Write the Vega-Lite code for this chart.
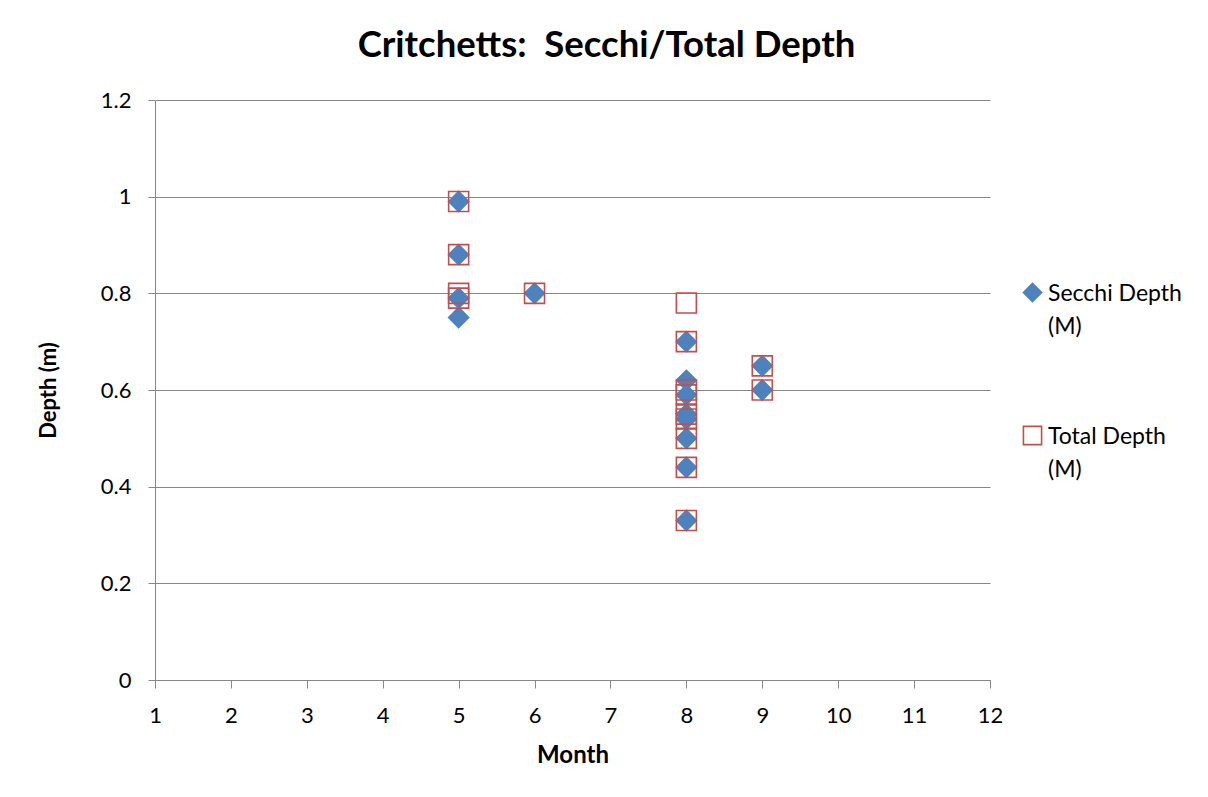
{
  "$schema": "https://vega.github.io/schema/vega-lite/v6.json",
  "autosize": "none",
  "padding": {"left": 155, "top": 100, "right": 218, "bottom": 117},
  "width": 835,
  "height": 580,
  "background": "white",
  "title": {
    "text": "Critchetts:\u00a0 Secchi/Total Depth",
    "font": "Lato",
    "fontSize": 36.5,
    "fontWeight": "bold",
    "color": "#000000",
    "anchor": "middle",
    "dx": 34,
    "offset": 25
  },
  "config": {
    "view": {"stroke": null},
    "font": "Lato",
    "style": {"guide-label": {"lineHeight": 33, "dy": 8}},
    "axis": {
      "labelFont": "Lato",
      "labelFontSize": 22,
      "labelColor": "#000000",
      "titleFont": "Lato",
      "titleFontSize": 22,
      "titleFontWeight": "bold",
      "titleColor": "#000000",
      "domainColor": "#868686",
      "tickColor": "#868686",
      "gridColor": "#868686",
      "labelFlush": false
    },
    "legend": {
      "labelFont": "Lato",
      "labelFontSize": 23,
      "labelColor": "#000000"
    }
  },
  "data": {
    "values": [
      {"month": 5, "series": "Secchi Depth (M)", "depth": 0.99},
      {"month": 5, "series": "Secchi Depth (M)", "depth": 0.88},
      {"month": 5, "series": "Secchi Depth (M)", "depth": 0.79},
      {"month": 5, "series": "Secchi Depth (M)", "depth": 0.75},
      {"month": 6, "series": "Secchi Depth (M)", "depth": 0.80},
      {"month": 8, "series": "Secchi Depth (M)", "depth": 0.70},
      {"month": 8, "series": "Secchi Depth (M)", "depth": 0.62},
      {"month": 8, "series": "Secchi Depth (M)", "depth": 0.59},
      {"month": 8, "series": "Secchi Depth (M)", "depth": 0.55},
      {"month": 8, "series": "Secchi Depth (M)", "depth": 0.54},
      {"month": 8, "series": "Secchi Depth (M)", "depth": 0.50},
      {"month": 8, "series": "Secchi Depth (M)", "depth": 0.44},
      {"month": 8, "series": "Secchi Depth (M)", "depth": 0.33},
      {"month": 9, "series": "Secchi Depth (M)", "depth": 0.65},
      {"month": 9, "series": "Secchi Depth (M)", "depth": 0.60},
      {"month": 5, "series": "Total Depth (M)", "depth": 0.99},
      {"month": 5, "series": "Total Depth (M)", "depth": 0.88},
      {"month": 5, "series": "Total Depth (M)", "depth": 0.80},
      {"month": 5, "series": "Total Depth (M)", "depth": 0.79},
      {"month": 6, "series": "Total Depth (M)", "depth": 0.80},
      {"month": 8, "series": "Total Depth (M)", "depth": 0.78},
      {"month": 8, "series": "Total Depth (M)", "depth": 0.70},
      {"month": 8, "series": "Total Depth (M)", "depth": 0.60},
      {"month": 8, "series": "Total Depth (M)", "depth": 0.59},
      {"month": 8, "series": "Total Depth (M)", "depth": 0.55},
      {"month": 8, "series": "Total Depth (M)", "depth": 0.54},
      {"month": 8, "series": "Total Depth (M)", "depth": 0.50},
      {"month": 8, "series": "Total Depth (M)", "depth": 0.44},
      {"month": 8, "series": "Total Depth (M)", "depth": 0.33},
      {"month": 9, "series": "Total Depth (M)", "depth": 0.65},
      {"month": 9, "series": "Total Depth (M)", "depth": 0.60}
    ]
  },
  "mark": {"type": "point", "filled": false, "size": 400, "strokeWidth": 1.6, "opacity": 1},
  "encoding": {
    "x": {
      "field": "month",
      "type": "quantitative",
      "title": "Month",
      "scale": {"domain": [1, 12], "nice": false, "zero": false},
      "axis": {"values": [1,2,3,4,5,6,7,8,9,10,11,12], "grid": false, "tickSize": 8, "labelPadding": 9, "titlePadding": 17, "titleFontSize": 24}
    },
    "y": {
      "field": "depth",
      "type": "quantitative",
      "title": "Depth (m)",
      "scale": {"domain": [0, 1.2], "nice": false},
      "axis": {"values": [0, 0.2, 0.4, 0.6, 0.8, 1, 1.2], "format": "~g", "grid": true, "tickSize": 7, "labelPadding": 17, "labelOffset": -8, "titlePadding": 40}
    },
    "shape": {
      "field": "series",
      "type": "nominal",
      "scale": {"domain": ["Secchi Depth (M)", "Total Depth (M)"], "range": ["diamond", "square"]}
    },
    "color": {
      "field": "series",
      "type": "nominal",
      "scale": {"domain": ["Secchi Depth (M)", "Total Depth (M)"], "range": ["#4F81BD", "#C0504D"]},
      "legend": {
        "title": null,
        "orient": "none",
        "legendX": 866,
        "legendY": 181,
        "symbolSize": 330,
        "symbolStrokeWidth": 1.6,
        "labelOffset": 4,
        "labelFontSize": 23,
        "labelBaseline": "alphabetic",
        "rowPadding": 84,
        "labelExpr": "datum.label == 'Secchi Depth (M)' ? ['Secchi Depth', '(M)'] : ['Total Depth', '(M)']"
      }
    },
    "fill": {
      "field": "series",
      "type": "nominal",
      "scale": {"domain": ["Secchi Depth (M)", "Total Depth (M)"], "range": ["#4F81BD", "transparent"]}
    },
    "order": {"field": "series", "type": "nominal"}
  }
}
